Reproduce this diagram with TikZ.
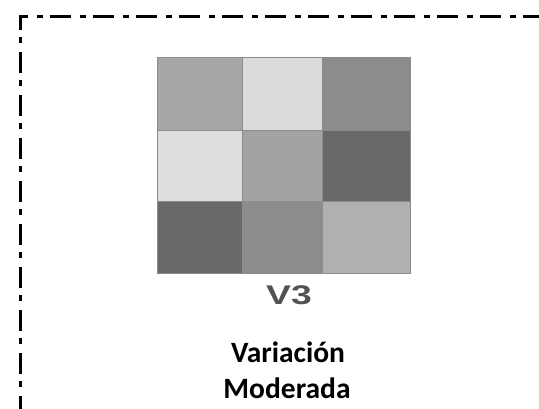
\documentclass[tikz,border=0pt]{standalone}
\usepackage{fontspec}
\setmainfont{Carlito}
\newfontfamily\arialfont{Liberation Sans}
\tikzset{
  frame/.style={line width=2.6pt, dash pattern=on 6pt off 7pt on 21pt off 9pt},
  cellbox/.style={draw=black!45, line width=0.4pt},
  vlabel/.style={font=\arialfont\bfseries\fontsize{27}{30}\selectfont, text=black!68, inner sep=0pt, anchor=base, xscale=1.38},
  caption/.style={font=\bfseries\fontsize{29.5}{33}\selectfont, inner sep=0pt, anchor=base}
}
\begin{document}
\begin{tikzpicture}[x=1pt,y=-1pt]
\useasboundingbox (0,0) rectangle (539,408);
\clip (0,0) rectangle (539,408);
\fill[white] (0,0) rectangle (539,408);
% dashed frame
\draw[frame] (20.5,430) -- (20.5,16.5) -- (560,16.5);
% grid
\filldraw[cellbox, fill=black!35] (157,57) rectangle (242,130);
\filldraw[cellbox, fill=black!14] (242,57) rectangle (322,130);
\filldraw[cellbox, fill=black!45] (322,57) rectangle (410,130);
\filldraw[cellbox, fill=black!13] (157,130) rectangle (242,201);
\filldraw[cellbox, fill=black!36] (242,130) rectangle (322,201);
\filldraw[cellbox, fill=black!59] (322,130) rectangle (410,201);
\filldraw[cellbox, fill=black!59] (157,201) rectangle (242,273);
\filldraw[cellbox, fill=black!45] (242,201) rectangle (322,273);
\filldraw[cellbox, fill=black!31] (322,201) rectangle (410,273);
% labels
\node[vlabel] (v3) at (289,304) {V3};
\node[caption] (var) at (288,362) {Variación};
\node[caption] (mod) at (287,398) {Moderada};
\end{tikzpicture}
\end{document}
